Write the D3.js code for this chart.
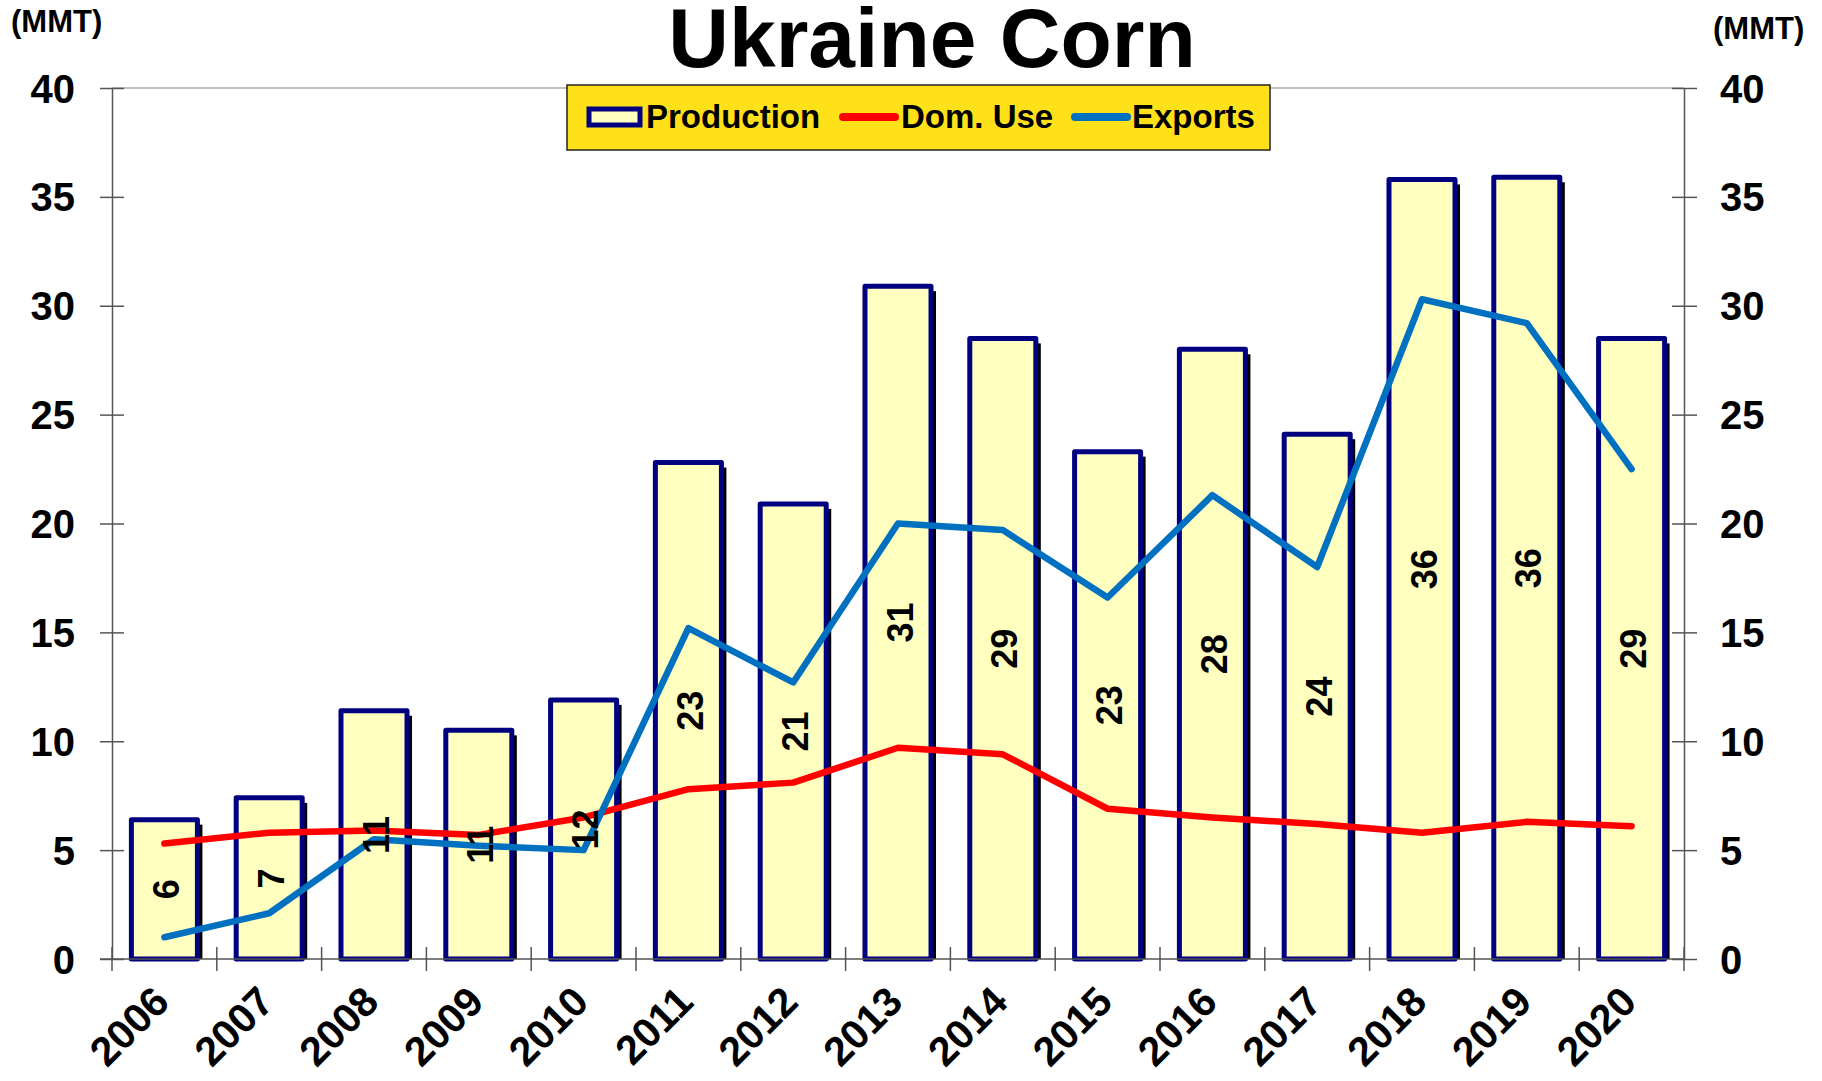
<!DOCTYPE html>
<html>
<head>
<meta charset="utf-8">
<script src="https://cdn.jsdelivr.net/npm/d3@7"></script>
<style>
  html, body { margin: 0; padding: 0; background: #fff; }
  svg { display: block; }
  text { font-family: "Liberation Sans", Arial, sans-serif; font-weight: bold; }
</style>
</head>
<body>
<div id="chart"></div>
<script>
/* Ukraine Corn — production bars with dom. use / exports lines */

const YEARS      = ['2006','2007','2008','2009','2010','2011','2012','2013','2014','2015','2016','2017','2018','2019','2020'];
const PRODUCTION = [6.4, 7.4, 11.4, 10.5, 11.9, 22.8, 20.9, 30.9, 28.5, 23.3, 28.0, 24.1, 35.8, 35.9, 28.5];
const DOM_USE    = [5.3, 5.8, 5.9, 5.7, 6.5, 7.8, 8.1, 9.7, 9.4, 6.9, 6.5, 6.2, 5.8, 6.3, 6.1];
const EXPORTS    = [1.0, 2.1, 5.5, 5.2, 5.0, 15.2, 12.7, 20.0, 19.7, 16.6, 21.3, 18.0, 30.3, 29.2, 22.5];
const Y_TICKS    = [0, 5, 10, 15, 20, 25, 30, 35, 40];

const W = 1822, H = 1081;
const M = { left: 112, right: 1684, top: 88, bottom: 959 };

const svg = d3.select('#chart').append('svg')
  .attr('width', W).attr('height', H);

const x = d3.scaleBand().domain(YEARS).range([M.left, M.right]);
const y = d3.scaleLinear().domain([0, 40]).range([M.bottom, M.top]);
const bw   = x.bandwidth() * 0.63;
const cx   = yr => x(yr) + x.bandwidth() / 2;

/* ── title & units ───────────────────────────────────────── */
svg.append('text')
  .attr('x', 932).attr('y', 67)
  .attr('text-anchor', 'middle')
  .attr('font-size', 84)
  .text('Ukraine Corn');

svg.append('text')
  .attr('x', 11).attr('y', 32)
  .attr('font-size', 31)
  .text('(MMT)');

svg.append('text')
  .attr('x', 1713).attr('y', 39)
  .attr('font-size', 31)
  .text('(MMT)');

/* ── frame ───────────────────────────────────────────────── */
svg.append('line')
  .attr('x1', M.left).attr('x2', M.right)
  .attr('y1', y(40)).attr('y2', y(40))
  .attr('stroke', '#c0c0c0').attr('stroke-width', 2);

/* ── bars ────────────────────────────────────────────────── */
const bars = YEARS.map((yr, i) => ({ yr, v: PRODUCTION[i] }));

// drop shadow
svg.append('g').selectAll('rect')
  .data(bars).join('rect')
  .attr('x', d => cx(d.yr) - bw / 2 + 5)
  .attr('y', d => y(d.v) + 5)
  .attr('width', bw)
  .attr('height', d => y(0) - y(d.v) - 5)
  .attr('fill', '#000');

svg.append('g').selectAll('rect')
  .data(bars).join('rect')
  .attr('x', d => cx(d.yr) - bw / 2)
  .attr('y', d => y(d.v))
  .attr('width', bw)
  .attr('height', d => y(0) - y(d.v))
  .attr('fill', '#ffffc0')
  .attr('stroke', '#000080').attr('stroke-width', 5)
  .attr('stroke-linejoin', 'round');

/* ── axes ────────────────────────────────────────────────── */
const axisCol = '#555';

svg.append('g')
  .attr('transform', `translate(${M.left},0)`)
  .call(d3.axisLeft(y).tickValues(Y_TICKS).tickSize(12).tickSizeOuter(0).tickFormat(d3.format('d')))
  .call(g => {
    g.select('.domain').attr('stroke', axisCol).attr('stroke-width', 1.5);
    g.selectAll('.tick line').attr('stroke', axisCol).attr('stroke-width', 1.5).attr('x2', 12).attr('x1', -12);
    g.selectAll('.tick text').attr('x', -37).attr('dy', '0.35em')
      .attr('font-size', 40).attr('fill', '#000')
      .attr('font-family', '"Liberation Sans", Arial, sans-serif').attr('font-weight', 'bold');
  });

svg.append('g')
  .attr('transform', `translate(${M.right},0)`)
  .call(d3.axisRight(y).tickValues(Y_TICKS).tickSize(12).tickSizeOuter(0).tickFormat(d3.format('d')))
  .call(g => {
    g.select('.domain').attr('stroke', axisCol).attr('stroke-width', 1.5);
    g.selectAll('.tick line').attr('stroke', axisCol).attr('stroke-width', 1.5).attr('x1', -12).attr('x2', 13);
    g.selectAll('.tick text').attr('x', 36).attr('dy', '0.35em')
      .attr('font-size', 40).attr('fill', '#000')
      .attr('font-family', '"Liberation Sans", Arial, sans-serif').attr('font-weight', 'bold');
  });

// category axis: line at zero + boundary ticks
svg.append('line')
  .attr('x1', M.left - 12).attr('x2', M.right)
  .attr('y1', y(0)).attr('y2', y(0))
  .attr('stroke', axisCol).attr('stroke-width', 1.5);

const bounds = YEARS.map(yr => x(yr)).concat([M.right]);
svg.append('g').selectAll('line')
  .data(bounds).join('line')
  .attr('x1', d => d).attr('x2', d => d)
  .attr('y1', y(0) - 12).attr('y2', y(0) + 12)
  .attr('stroke', axisCol).attr('stroke-width', 1.5);

svg.append('g').selectAll('text')
  .data(YEARS).join('text')
  .attr('transform', d => `translate(${cx(d) + 7},${1004}) rotate(-45)`)
  .attr('text-anchor', 'end')
  .attr('font-size', 41)
  .text(d => d);

/* ── lines ───────────────────────────────────────────────── */
const line = d3.line().x(d => cx(d.yr)).y(d => y(d.v));

svg.append('path')
  .datum(YEARS.map((yr, i) => ({ yr, v: DOM_USE[i] })))
  .attr('d', line)
  .attr('fill', 'none').attr('stroke', '#ff0000').attr('stroke-width', 6.5)
  .attr('stroke-linejoin', 'round').attr('stroke-linecap', 'round');

svg.append('path')
  .datum(YEARS.map((yr, i) => ({ yr, v: EXPORTS[i] })))
  .attr('d', line)
  .attr('fill', 'none').attr('stroke', '#0070c0').attr('stroke-width', 6.5)
  .attr('stroke-linejoin', 'round').attr('stroke-linecap', 'round');

/* ── data labels ─────────────────────────────────────────── */
svg.append('g').selectAll('text')
  .data(bars).join('text')
  .attr('transform', d => `translate(${cx(d.yr) + 2},${(y(d.v) + y(0)) / 2}) rotate(-90)`)
  .attr('text-anchor', 'middle')
  .attr('dy', '0.35em')
  .attr('font-size', 36)
  .text(d => Math.round(d.v));

/* ── legend ──────────────────────────────────────────────── */
const lg = svg.append('g');
lg.append('rect')
  .attr('x', 567).attr('y', 85).attr('width', 703).attr('height', 65)
  .attr('fill', '#ffe11a').attr('stroke', '#222').attr('stroke-width', 1.5);

lg.append('rect')
  .attr('x', 589).attr('y', 109).attr('width', 51).attr('height', 16)
  .attr('fill', '#ffffc0').attr('stroke', '#000080').attr('stroke-width', 5);
lg.append('text').attr('x', 646).attr('y', 128).attr('font-size', 33).text('Production');

lg.append('line')
  .attr('x1', 843).attr('x2', 895).attr('y1', 117).attr('y2', 117)
  .attr('stroke', '#ff0000').attr('stroke-width', 8).attr('stroke-linecap', 'round');
lg.append('text').attr('x', 901).attr('y', 128).attr('font-size', 33).text('Dom. Use');

lg.append('line')
  .attr('x1', 1075).attr('x2', 1127).attr('y1', 117).attr('y2', 117)
  .attr('stroke', '#0070c0').attr('stroke-width', 8).attr('stroke-linecap', 'round');
lg.append('text').attr('x', 1132).attr('y', 128).attr('font-size', 33).text('Exports');
</script>
</body>
</html>
